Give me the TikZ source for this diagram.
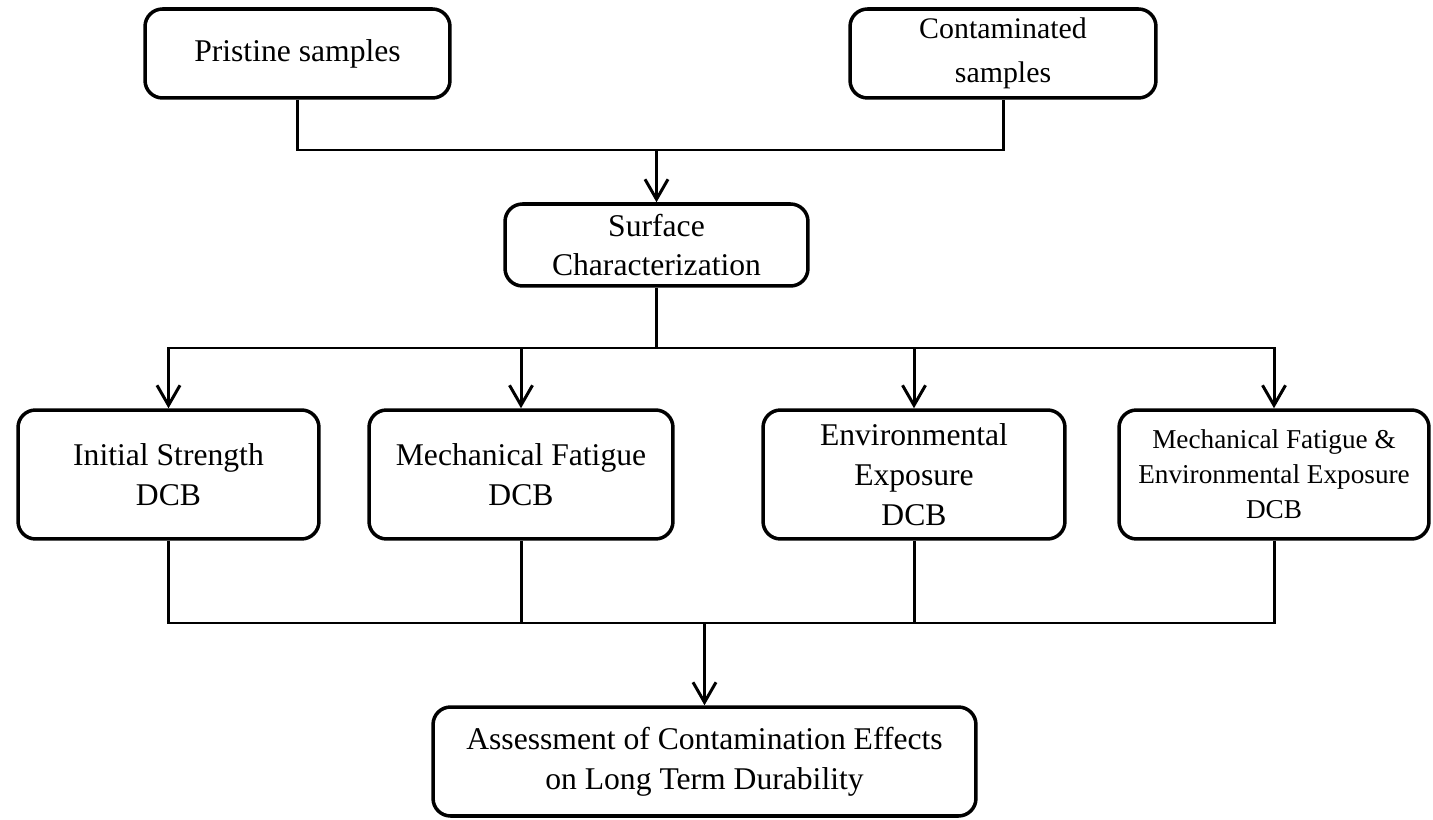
\documentclass[tikz,border=0pt]{standalone}
\usepackage{fontspec}
\setmainfont{Liberation Serif}
\usetikzlibrary{positioning}
\usetikzlibrary{arrows.meta}

\tikzset{
  stage/.style={draw, line width=2pt, rounded corners=0.35cm, align=center, inner sep=2pt,
    font=\fontsize{18}{22.7}\selectfont},
  flow/.style={line width=1.7pt},
  arr/.style={flow, -{Straight Barb[length=0.4cm,width=0.46cm]}}
}

\begin{document}
\begin{tikzpicture}[x=0.02cm, y=-0.02cm]
                \useasboundingbox (0,0) rectangle (1433,820);

                % Define the coordinates of the boxes
                \coordinate (p) at (297.5,53.5);
                \coordinate (c) at (1003,53.5);
                \coordinate (s) at (656.5,245);
                \coordinate (i) at (168.5,474.5);
                \coordinate (m) at (521,474.5);
                \coordinate (e) at (914,474.5);
                \coordinate (b) at (1274,474.5);
                \coordinate (a) at (704.5,761.5);

                % Define the corners of the connectors
                \coordinate (top) at (656.5,150);
                \coordinate (split) at (656.5,348);
                \coordinate (join) at (704.5,623);

                % Draw the boxes
                \node[stage, minimum width=6.1cm, minimum height=1.78cm] (prist) at (p) {Pristine samples};
                \node[stage, minimum width=6.12cm, minimum height=1.78cm,
                      font=\fontsize{17}{25}\selectfont] (contam) at (c) {Contaminated\\samples};
                \node[stage, minimum width=6.06cm, minimum height=1.64cm] (surf) at (s) {Surface\\Characterization};
                \node[stage, minimum width=6.02cm, minimum height=2.58cm] (init) at (i) {Initial Strength\\DCB};
                \node[stage, minimum width=6.08cm, minimum height=2.58cm] (mech) at (m) {Mechanical Fatigue\\DCB};
                \node[stage, minimum width=6.04cm, minimum height=2.58cm] (env) at (e) {Environmental\\Exposure\\DCB};
                \node[stage, minimum width=6.2cm, minimum height=2.58cm,
                      font=\fontsize{15.5}{20}\selectfont] (both) at (b) {Mechanical Fatigue \&\\Environmental Exposure\\DCB};
                \node[stage, minimum width=10.86cm, minimum height=2.18cm] (assess) at (a)
                      {Assessment of Contamination Effects\\on Long Term Durability};

                % Draw the lines
                \draw[flow] (prist.south) |- (top) -| (contam.south);
                \draw[arr] (top) -- (surf.north);
                \draw[flow] (surf.south) -- (split);
                \foreach \test in {init, mech, env, both}
                    \draw[arr] (split) -| (\test.north);
                \foreach \test in {init, mech, env, both}
                    \draw[flow] (\test.south) |- (join);
                \draw[arr] (join) -- (assess.north);

\end{tikzpicture}
\end{document}
